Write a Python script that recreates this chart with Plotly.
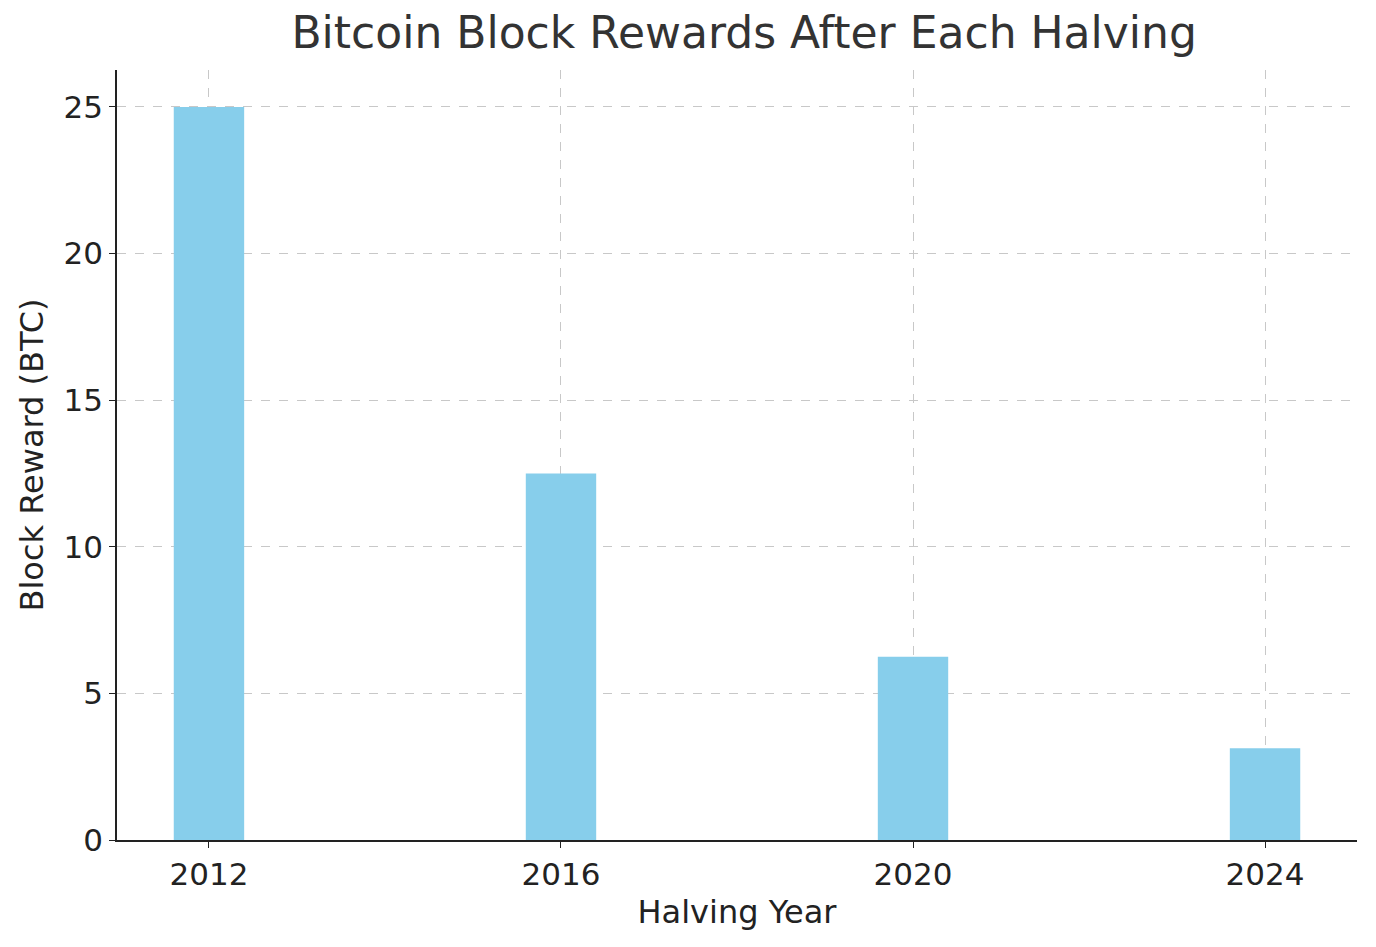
import plotly.graph_objects as go

years = [2012, 2016, 2020, 2024]
rewards = [25, 12.5, 6.25, 3.125]
tick_labels = ["2012", "2016", "2020", "2024"]

fig = go.Figure()
fig.add_trace(go.Bar(x=years, y=rewards, width=0.8, marker_color="#87CEEB",
                     marker_line_width=0))

tick_font = dict(family="DejaVu Sans", size=31, color="#222")
title_font = dict(family="DejaVu Sans", size=32, color="#222")
fig.update_layout(
    width=1376, height=947,
    plot_bgcolor="white", paper_bgcolor="white",
    margin=dict(l=109, r=27, t=62, b=115),
    title=dict(text="Bitcoin Block Rewards After Each Halving", x=0.535, y=0.99,
               xanchor="center", yanchor="top",
               font=dict(family="DejaVu Sans", size=44, color="#333")),
    showlegend=False,
)
common = dict(
    showgrid=True, gridcolor="#c8c8c8", griddash="dash", gridwidth=1,
    showline=True, linecolor="#222", linewidth=1.5,
    ticks="outside", ticklen=6, tickcolor="#222",
    tickfont=tick_font, zeroline=False,
)
fig.update_xaxes(
    range=[2010.955, 2025.045], tickvals=years, ticktext=tick_labels,
    title=dict(text="Halving Year", font=title_font, standoff=10),
    **common,
)
fig.update_yaxes(
    range=[0, 26.26], tickvals=[0, 5, 10, 15, 20, 25],
    title=dict(text="Block Reward (BTC)", font=title_font, standoff=10),
    **common,
)
fig.write_html("out.html")
